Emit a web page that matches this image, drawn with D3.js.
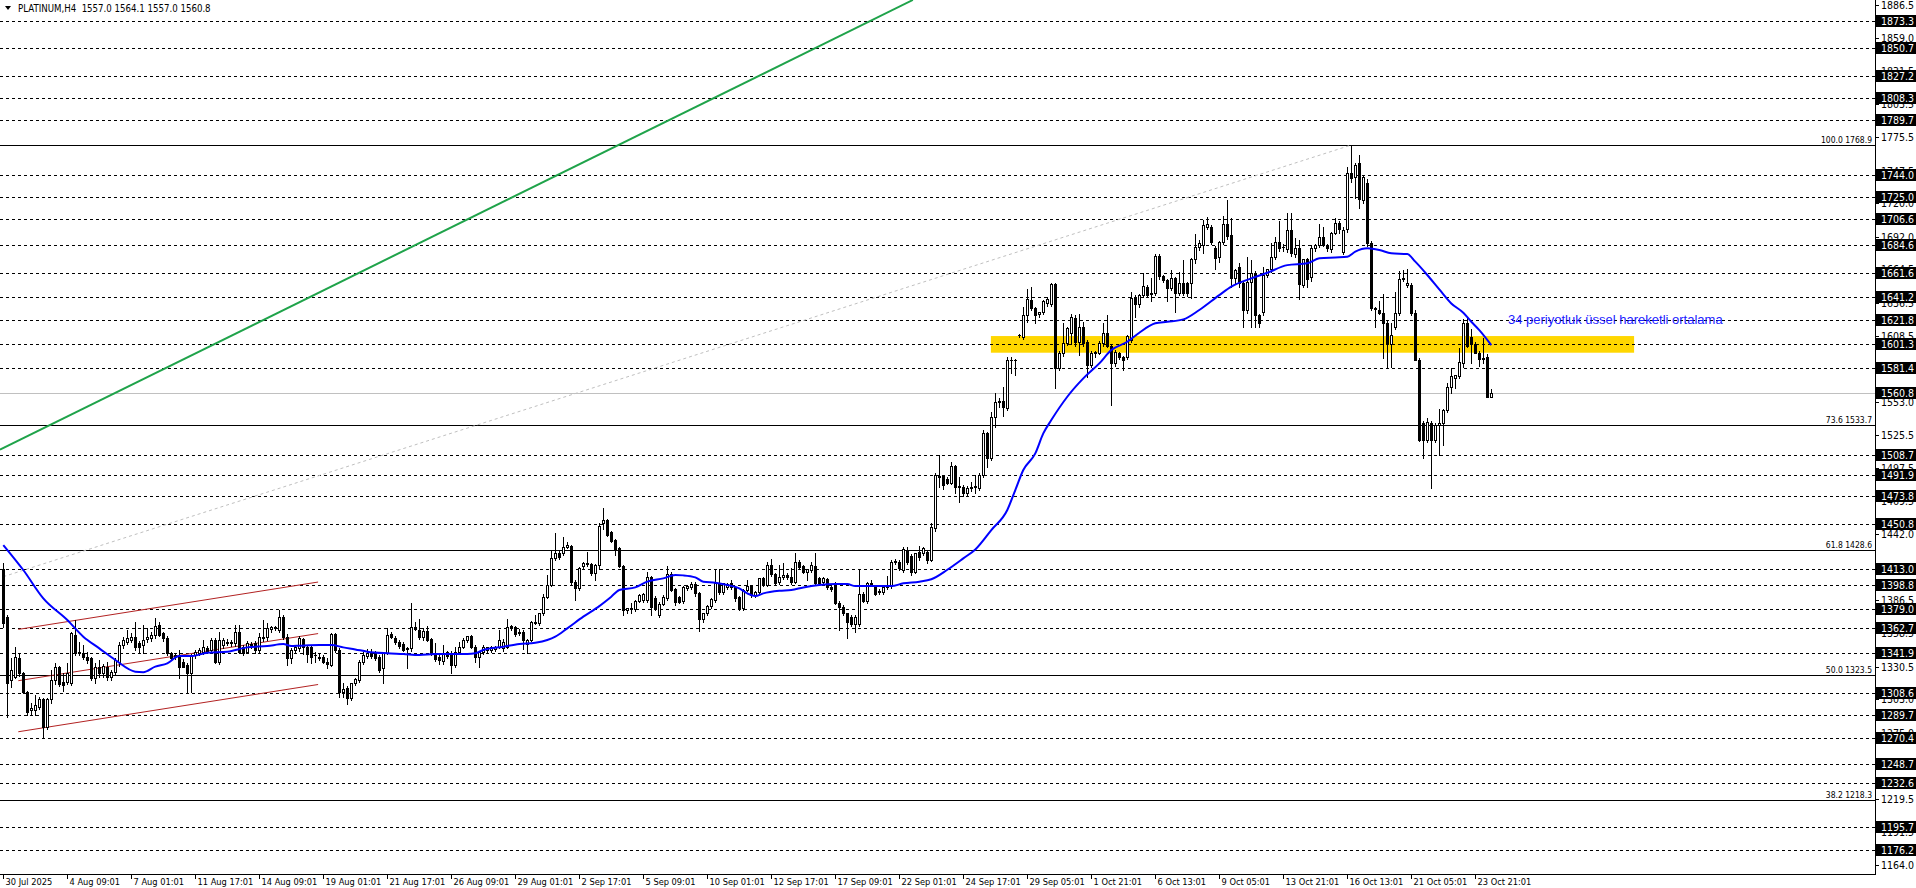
<!DOCTYPE html>
<html><head><meta charset="utf-8">
<script src="https://cdn.jsdelivr.net/npm/d3@7"></script>
<style>
html,body{margin:0;padding:0;background:#fff;overflow:hidden}
svg{display:block}
text{font-family:Tahoma,'DejaVu Sans Condensed','DejaVu Sans',sans-serif;white-space:pre;}
</style></head><body>
<svg id="c" width="1916" height="888"></svg>
<script>
// ---------- DATA ----------
const title = "PLATINUM,H4  1557.0 1564.1 1557.0 1560.8";
const opens = [1413.0,1372.0,1319.4,1322.2,1337.6,1325.0,1309.0,1294.2,1294.0,1297.0,1303.2,1280.2,1303.2,1319.4,1330.6,1318.0,1318.0,1316.6,1357.2,1343.2,1341.8,1339.0,1337.6,1320.8,1330.6,1325.0,1330.6,1322.2,1326.4,1334.8,1349.0,1351.6,1353.0,1355.8,1350.2,1348.8,1353.8,1354.4,1357.2,1365.6,1358.6,1354.4,1341.8,1340.4,1339.0,1334.8,1332.0,1325.0,1340.4,1342.0,1343.2,1346.0,1344.6,1353.0,1334.8,1348.8,1351.6,1350.2,1350.2,1360.0,1347.4,1343.2,1348.8,1350.2,1344.6,1354.4,1355.8,1362.0,1363.6,1361.4,1372.0,1355.8,1337.6,1344.6,1346.0,
1353.5,1347.4,1346.8,1340.4,1339.0,1338.4,1334.7,1332.0,1357.7,1344.6,1309.5,1312.4,1303.9,1316.5,1319.3,1334.7,1339.5,1343.2,1342.3,1338.4,1329.2,1342.3,1357.7,1354.9,1351.6,1349.3,1346.5,1346.0,1364.2,1361.4,1355.2,1360.5,1353.5,1341.8,1339.0,1335.6,1342.6,1342.3,1332.0,1343.2,1347.4,1353.0,1356.3,1347.4,1338.4,1342.6,1344.6,1344.6,1345.1,1347.4,1346.0,1347.4,1364.7,1364.2,1360.0,1360.0,1349.6,1353.0,1367.5,1367.5,1375.4,1389.4,1399.2,1421.6,1426.3,1425.8,1431.4,1432.0,1402.0,1396.4,1415.1,1416.8,1416.8,1409.0,1416.0,
1451.0,1453.8,1443.4,1437.0,1430.0,1415.1,1378.2,1380.0,1378.7,1386.0,1386.6,1386.6,1405.6,1388.0,1374.0,1383.2,1388.5,1408.4,1395.5,1388.8,1386.0,1396.4,1397.2,1400.0,1392.2,1370.3,1375.4,1381.5,1386.6,1401.1,1393.6,1397.2,1400.6,1397.2,1389.4,1380.1,1395.0,1398.3,1390.8,1393.6,1404.8,1399.2,1416.0,1408.4,1402.0,1405.6,1407.6,1405.6,1402.0,1418.8,1415.1,1410.4,1411.8,1415.1,1404.8,1401.6,1403.9,1397.8,1401.1,1384.3,1381.0,1375.4,1372.6,1366.4,1366.4,1391.6,1386.0,1400.0,1397.8,1393.6,1393.6,1397.2,1398.3,1418.8,1418.8,1411.8,1428.6,1423.5,1410.4,1427.2,
1425.8,1427.2,1420.2,1446.8,1490.2,1490.8,1488.0,1485.2,1499.2,1482.5,1481.8,1476.8,1481.0,1482.5,1480.4,1491.6,1526.6,1505.6,1540.6,1553.2,1554.1,1547.6,1588.2,1588.2,1609.2,1607.9,1626.1,1638.7,1631.7,1626.9,1628.9,1635.9,1635.3,1652.1,1581.2,1593.8,1602.2,1610.6,1623.3,1603.6,1616.3,1603.6,1584.0,1593.8,1594.4,1602.8,1611.2,1600.0,1586.0,1593.8,1591.0,1590.5,1605.0,1641.5,1635.3,1642.9,1649.9,1643.7,1644.8,1675.6,1658.8,1655.5,1648.5,1656.9,1644.3,1652.7,1652.7,1653.2,1672.8,1682.9,
1684.9,1699.7,1700.3,1682.1,1675.1,1687.7,1702.2,1693.3,1656.9,1666.7,1652.7,1630.2,1654.1,1661.1,1626.0,1628.8,1659.7,1664.4,1675.1,1687.7,1683.5,1681.2,1697.5,1677.3,1682.1,1651.3,1672.8,1658.0,1682.1,1684.9,1691.9,1684.9,1681.2,1695.2,1703.6,1679.3,1698.0,1745.6,1742.3,1753.5,1722.7,1737.2,1686.3,1631.6,1630.2,1628.0,1619.6,1601.7,1616.2,1628.0,1656.0,1651.3,1651.3,1628.0,1588.2,1535.0,1521.0,1535.0,1521.0,1533.6,1535.0,1546.2,1565.8,1572.8,1574.8,1586.0,1619.6,1607.3,1601.4,1594.4,1588.8,1591.0,1557.0];
const highs = [1418.0,1374.0,1337.6,1347.4,1341.0,1326.0,1310.0,1299.8,1306.8,1305.0,1304.5,1304.0,1327.8,1333.4,1331.5,1325.0,1333.4,1360.0,1369.8,1351.6,1348.8,1343.2,1339.0,1333.4,1336.2,1333.0,1334.8,1328.0,1338.0,1351.6,1355.8,1361.4,1358.6,1368.4,1352.0,1365.6,1362.8,1360.0,1371.2,1368.4,1360.0,1356.0,1343.0,1342.0,1344.6,1337.0,1334.0,1341.0,1344.6,1346.0,1353.0,1348.0,1354.4,1355.0,1360.0,1355.0,1354.0,1353.0,1365.6,1366.0,1349.0,1352.0,1351.0,1352.0,1358.6,1369.8,1367.0,1365.0,1365.0,1378.2,1374.0,1358.0,1346.0,1348.0,1356.0,
1355.0,1349.0,1348.0,1343.2,1341.8,1340.4,1337.6,1358.6,1359.1,1346.0,1316.5,1314.0,1317.0,1321.0,1336.0,1343.2,1345.1,1345.1,1344.0,1340.0,1342.8,1362.8,1360.0,1356.3,1353.0,1351.0,1347.4,1383.8,1368.4,1370.6,1363.0,1364.7,1355.0,1350.7,1341.0,1348.8,1344.0,1344.0,1347.4,1351.6,1355.0,1356.3,1357.0,1349.0,1344.0,1349.0,1347.5,1348.0,1348.0,1361.4,1353.5,1370.6,1366.0,1365.0,1362.0,1361.0,1353.5,1369.0,1374.0,1376.0,1391.6,1407.6,1428.6,1442.6,1428.6,1439.2,1435.6,1433.0,1403.0,1414.6,1418.5,1427.2,1418.0,1417.0,1451.0,
1463.6,1455.0,1445.0,1438.0,1431.0,1416.0,1380.0,1383.8,1387.0,1391.6,1392.2,1410.4,1407.0,1390.0,1385.2,1391.0,1415.1,1410.0,1397.0,1390.0,1398.3,1399.0,1402.0,1402.0,1393.0,1376.0,1382.0,1388.0,1411.8,1412.3,1401.0,1401.0,1403.4,1398.0,1390.0,1396.0,1403.4,1399.0,1394.0,1405.0,1406.0,1418.8,1420.7,1409.0,1416.0,1417.4,1409.0,1413.2,1425.8,1420.0,1416.0,1413.0,1418.8,1425.8,1406.0,1406.0,1405.0,1399.0,1402.0,1386.0,1382.0,1376.0,1374.0,1374.0,1411.8,1393.0,1402.0,1403.4,1399.0,1396.0,1399.0,1406.7,1420.0,1421.0,1420.0,1431.4,1431.4,1425.0,1426.0,1432.0,
1431.0,1429.0,1451.0,1493.0,1508.4,1492.0,1490.0,1502.8,1500.0,1490.2,1483.0,1482.0,1486.0,1491.6,1493.0,1529.4,1528.0,1545.0,1560.2,1556.0,1565.8,1591.0,1591.0,1589.5,1610.0,1633.1,1647.6,1649.9,1633.0,1629.0,1639.0,1641.5,1652.7,1652.7,1596.0,1619.6,1616.0,1626.9,1626.0,1627.0,1620.4,1605.0,1596.0,1596.0,1604.0,1619.1,1626.1,1602.0,1597.0,1595.0,1592.0,1609.0,1645.7,1643.0,1643.7,1661.6,1651.0,1656.9,1677.0,1677.0,1660.0,1656.5,1663.9,1658.0,1662.5,1672.3,1654.0,1674.0,1694.1,1689.1,
1705.9,1708.7,1702.0,1684.0,1688.0,1709.2,1722.7,1707.3,1665.0,1669.5,1654.0,1675.1,1672.3,1663.0,1627.0,1666.7,1665.0,1686.3,1691.9,1705.3,1686.0,1711.5,1711.5,1690.5,1689.1,1673.0,1674.0,1684.9,1686.0,1702.5,1700.3,1686.0,1696.1,1707.3,1705.0,1700.0,1750.7,1768.9,1754.1,1760.5,1744.0,1740.0,1688.0,1633.0,1638.1,1643.7,1621.0,1619.6,1645.7,1663.3,1663.9,1664.4,1653.0,1630.0,1590.0,1537.0,1539.2,1537.0,1535.0,1546.8,1547.0,1568.6,1581.2,1576.0,1598.0,1622.4,1623.2,1614.0,1603.0,1596.0,1606.4,1593.0,1564.1];
const lows = [1364.0,1288.6,1313.8,1320.8,1323.0,1308.5,1290.0,1290.0,1290.0,1295.0,1270.4,1278.0,1300.0,1316.0,1314.0,1310.0,1316.0,1315.0,1340.0,1340.4,1337.0,1334.0,1319.4,1316.6,1322.0,1322.0,1319.4,1319.4,1324.0,1331.0,1346.0,1350.0,1351.0,1345.0,1343.0,1341.8,1351.0,1352.0,1355.0,1356.0,1352.0,1340.0,1336.0,1337.0,1320.8,1330.0,1309.6,1309.6,1338.0,1340.0,1341.0,1342.0,1342.0,1333.4,1333.0,1346.0,1349.0,1348.0,1348.0,1342.0,1340.0,1342.0,1346.0,1341.8,1342.0,1352.0,1353.0,1360.0,1361.0,1360.0,1354.0,1332.0,1334.0,1342.0,1344.0,
1341.2,1334.2,1333.8,1334.7,1336.2,1333.3,1329.2,1331.0,1343.0,1305.3,1305.3,1299.2,1302.5,1315.0,1318.0,1333.0,1338.0,1338.0,1336.0,1326.3,1316.5,1341.0,1354.9,1350.0,1346.0,1344.0,1329.2,1344.0,1361.0,1354.0,1353.0,1352.0,1340.0,1335.0,1333.0,1333.0,1338.0,1324.9,1330.0,1341.0,1346.0,1351.0,1346.0,1334.7,1330.6,1341.0,1343.0,1343.0,1343.4,1346.0,1344.0,1346.0,1361.0,1356.0,1357.0,1345.1,1341.8,1352.0,1366.4,1366.0,1374.0,1388.0,1398.0,1420.0,1421.0,1424.0,1430.0,1399.2,1386.6,1395.0,1413.0,1415.0,1408.0,1403.4,1413.0,
1446.0,1440.0,1435.0,1424.4,1414.0,1374.0,1375.4,1375.4,1377.0,1385.0,1385.0,1385.0,1374.0,1378.0,1372.6,1382.0,1387.0,1394.0,1382.4,1384.0,1384.0,1395.0,1396.0,1390.0,1360.5,1368.0,1374.0,1380.0,1385.0,1392.0,1392.0,1396.0,1396.0,1386.0,1378.0,1378.0,1394.0,1389.0,1389.0,1392.0,1398.0,1398.0,1407.0,1399.0,1400.0,1404.0,1404.0,1400.0,1401.0,1413.0,1409.0,1403.4,1410.0,1400.0,1399.0,1399.0,1396.0,1394.0,1383.0,1361.4,1374.0,1354.4,1365.0,1360.0,1365.0,1385.0,1384.0,1399.0,1391.0,1392.0,1392.0,1396.0,1397.0,1417.0,1412.0,1410.0,1417.0,1408.0,1409.0,1420.0,
1424.0,1418.0,1419.0,1445.0,1481.8,1479.6,1484.0,1484.0,1476.8,1469.2,1474.0,1475.0,1478.0,1476.8,1479.0,1490.0,1498.6,1504.0,1532.2,1549.0,1541.2,1546.0,1577.0,1575.6,1608.0,1606.0,1620.0,1630.0,1619.6,1624.0,1627.0,1634.0,1634.0,1564.4,1580.0,1592.0,1601.0,1602.0,1600.0,1592.4,1600.0,1574.2,1582.0,1591.0,1593.0,1600.0,1599.5,1550.4,1583.0,1589.0,1579.8,1589.0,1603.0,1624.7,1633.0,1641.0,1641.0,1638.1,1643.0,1656.0,1654.0,1638.1,1647.0,1628.9,1643.0,1643.0,1642.0,1640.1,1670.0,1681.0,
1677.9,1698.0,1686.0,1664.4,1670.9,1686.0,1690.0,1650.0,1652.0,1650.0,1616.2,1628.0,1616.2,1616.2,1616.2,1626.0,1658.0,1662.0,1673.0,1680.0,1680.0,1679.0,1676.0,1675.0,1639.2,1650.0,1649.9,1655.0,1680.0,1683.0,1684.0,1680.0,1679.0,1694.0,1695.0,1677.0,1696.0,1738.0,1724.1,1715.7,1720.0,1684.0,1630.0,1616.2,1627.0,1589.6,1582.6,1582.1,1614.0,1626.0,1655.0,1650.0,1626.0,1588.0,1520.0,1505.6,1519.0,1480.4,1519.0,1508.4,1516.8,1545.0,1560.2,1564.4,1572.8,1582.6,1599.0,1585.4,1594.0,1583.2,1586.0,1557.0,1557.0];
const closes = [1367.0,1316.6,1327.8,1339.0,1325.0,1309.0,1292.8,1295.6,1298.4,1303.2,1280.2,1303.2,1319.4,1330.6,1316.0,1315.2,1325.0,1358.6,1341.8,1341.8,1339.0,1336.2,1320.8,1330.6,1325.0,1331.0,1322.2,1326.4,1336.2,1349.0,1353.0,1354.4,1355.8,1347.4,1347.4,1353.0,1355.8,1357.2,1364.8,1357.2,1354.4,1341.8,1337.6,1339.0,1330.6,1330.6,1325.0,1340.4,1343.2,1344.6,1347.4,1343.9,1353.0,1334.8,1353.0,1353.0,1350.2,1351.6,1360.0,1343.2,1341.8,1350.2,1349.4,1344.6,1355.8,1355.8,1362.8,1363.6,1362.8,1372.0,1355.8,1337.6,1344.6,1347.4,1354.4,
1347.4,1341.2,1339.0,1340.0,1337.6,1334.7,1332.8,1357.7,1344.6,1309.5,1311.5,1303.9,1316.5,1320.2,1334.7,1340.4,1342.3,1339.5,1337.6,1327.7,1342.3,1357.2,1355.8,1351.6,1347.9,1344.6,1345.1,1363.6,1362.0,1355.8,1360.5,1353.0,1341.8,1336.7,1336.2,1341.8,1339.5,1332.0,1343.2,1347.4,1353.0,1356.3,1347.4,1338.4,1343.2,1346.8,1346.8,1347.4,1347.4,1353.0,1351.6,1364.2,1362.8,1358.0,1358.6,1353.0,1353.0,1368.4,1368.4,1375.4,1389.4,1399.2,1421.6,1426.3,1422.4,1430.8,1432.8,1402.0,1396.4,1413.2,1417.9,1417.9,1409.0,1416.0,1449.0,
1453.8,1441.2,1436.4,1428.6,1415.1,1378.2,1379.6,1379.6,1386.0,1390.8,1391.6,1406.2,1380.9,1379.6,1383.2,1389.4,1408.4,1395.0,1385.2,1385.2,1397.2,1398.3,1400.0,1392.2,1370.3,1375.4,1381.5,1387.1,1401.1,1393.6,1400.6,1400.0,1397.2,1388.0,1380.1,1395.0,1398.3,1390.8,1393.6,1404.8,1399.2,1416.0,1408.4,1401.1,1405.6,1407.6,1405.6,1402.0,1418.8,1414.6,1410.4,1412.3,1416.0,1401.1,1401.1,1404.8,1397.8,1395.5,1383.8,1380.4,1375.4,1368.4,1366.4,1372.6,1391.6,1386.0,1400.6,1400.6,1391.6,1394.4,1397.8,1398.3,1418.8,1419.6,1413.2,1429.1,1418.8,1410.4,1425.8,1423.0,
1430.0,1420.2,1448.2,1491.6,1490.8,1483.2,1485.2,1499.2,1481.8,1481.8,1476.2,1480.4,1481.8,1481.8,1491.6,1526.6,1505.6,1540.6,1553.2,1554.1,1549.0,1588.2,1588.0,1588.0,1609.2,1626.1,1639.2,1631.7,1626.1,1628.9,1638.1,1639.2,1652.1,1581.2,1593.8,1602.2,1614.9,1624.1,1603.6,1616.3,1602.2,1584.0,1593.8,1595.2,1602.8,1611.2,1600.0,1586.0,1595.2,1591.0,1588.2,1608.4,1640.1,1635.3,1642.9,1650.4,1642.9,1644.8,1675.6,1658.8,1655.5,1648.5,1656.9,1644.3,1652.7,1644.3,1644.3,1672.8,1682.9,1686.3,
1701.7,1702.2,1687.7,1673.7,1687.7,1702.2,1692.4,1656.9,1663.9,1652.7,1630.2,1654.1,1661.1,1626.0,1619.6,1659.7,1664.4,1675.1,1687.7,1682.1,1682.9,1697.5,1677.9,1682.1,1652.1,1672.8,1656.0,1682.1,1684.9,1691.9,1684.9,1682.1,1694.7,1703.6,1698.0,1697.5,1745.6,1740.9,1752.1,1723.2,1742.3,1686.3,1631.6,1630.8,1628.0,1619.6,1601.7,1609.2,1628.0,1656.0,1656.9,1652.7,1628.0,1588.2,1521.0,1521.0,1536.4,1521.0,1533.6,1535.0,1546.2,1565.8,1574.8,1575.6,1586.8,1619.6,1600.0,1601.4,1594.4,1588.8,1589.6,1557.4,1560.8];

// 34-period EMA, read at sample bars
const emaBars = [0,5,10,16,20,24,28,33,35,38,41,44,47,51,56,61,66,70,72,74,79,82,85,88,91,96,100,104,108,112,116,118,120,125,129,133,136,138,141,145,149,152,154,158,161,165,168,170,173,175,178,181,184,186,188,190,194,197,200,204,208,211,213,218,222,225,229,232,236,240,243,247,251,253,255,258,260,262,266,270,274,277,281,284,288,291,295,299,304,307,312,316,321,326,329,333,336,338,341,344,347,351,353,356,359,362,365,367,369,372];
const emaValues = [1432.8,1411.8,1388.0,1369.8,1355.8,1346.0,1336.2,1326.4,1326.0,1330.6,1333.4,1339.5,1339.5,1342.3,1343.2,1346.8,1347.9,1349.6,1347.9,1348.2,1348.8,1348.8,1346.8,1345.1,1343.2,1341.8,1341.2,1340.4,1341.2,1341.2,1341.2,1341.8,1344.6,1347.4,1349.6,1350.7,1353.0,1355.8,1362.8,1372.6,1381.5,1389.4,1395.0,1397.2,1402.0,1404.8,1407.6,1407.3,1405.6,1402.0,1401.1,1399.2,1396.4,1392.2,1389.9,1392.2,1394.4,1395.0,1397.2,1399.2,1400.0,1400.0,1398.3,1398.3,1398.3,1400.6,1402.0,1404.0,1412.0,1421.6,1429.1,1445.4,1462.2,1479.0,1495.8,1509.8,1526.6,1537.8,1557.4,1572.8,1585.4,1596.6,1603.6,1611.2,1619.1,1620.4,1622.4,1630.3,1642.8,1649.9,1656.9,1661.6,1668.0,1669.5,1673.7,1674.5,1675.1,1679.3,1682.1,1680.7,1677.9,1677.3,1670.9,1659.7,1647.6,1635.8,1628.0,1620.4,1613.4,1600.8];

const xLabels = ["30 Jul 2025","4 Aug 09:01","7 Aug 01:01","11 Aug 17:01","14 Aug 09:01","19 Aug 01:01","21 Aug 17:01","26 Aug 09:01","29 Aug 01:01","2 Sep 17:01","5 Sep 09:01","10 Sep 01:01","12 Sep 17:01","17 Sep 09:01","22 Sep 01:01","24 Sep 17:01","29 Sep 05:01","1 Oct 21:01","6 Oct 13:01","9 Oct 05:01","13 Oct 21:01","16 Oct 13:01","21 Oct 05:01","23 Oct 21:01"];
const xLabelBars = [0,16,32,48,64,80,96,112,128,144,160,176,192,208,224,240,256,272,288,304,320,336,352,368];
const yTicks = [1886.5,1859.0,1831.5,1803.5,1775.5,1747.5,1720.0,1692.0,1664.5,1636.5,1608.5,1581.0,1553.0,1525.5,1497.5,1469.5,1442.0,1414.0,1386.5,1358.5,1330.5,1303.0,1275.0,1247.0,1219.5,1191.5,1164.0];
const dashedLevels = [1873.3,1850.7,1827.2,1808.3,1789.7,1744.0,1725.0,1706.6,1684.6,1661.6,1641.2,1621.8,1601.3,1581.4,1508.7,1491.9,1473.8,1450.8,1413.0,1398.8,1379.0,1362.7,1341.9,1308.6,1289.7,1270.4,1248.7,1232.6,1195.7,1176.2];
const fibPercents = ["100.0","73.6","61.8","50.0","38.2"];
const fibPrices = [1768.9,1533.7,1428.6,1323.5,1218.3];
const currentPrice = 1560.8;
const zoneBars = [246.9, 407.7];
const zonePrices = [1594.4, 1608.4];
const channelBars = [3.75, 78.7];
const channelUpper = [1361.9, 1401.7];
const channelMiddle = [1318.8, 1358.4];
const channelLower = [1275.9, 1315.6];
const greenBars = [-0.83, 227.4];
const greenPrices = [1512.9, 1890.8];
const fibTrendBars = [0, 337];
const fibTrendPrices = [1406.2, 1768.9];
const emaNote = "34 periyotluk üssel hareketli ortalama";

// ---------- LAYOUT ----------
const plotRight = 1875, plotBottom = 874;
const svg = d3.select("#c");
const x = d3.scaleLinear().domain([0, 372]).range([3.3, 3.3 + 4 * 372]);
const y = d3.scaleLinear().domain([1176.2, 1873.3]).range([850.4, 20.8]);
const ry = v => Math.round(y(v)) + 0.5;

svg.append("defs").append("clipPath").attr("id", "plot")
  .append("rect").attr("x", 0).attr("y", 0).attr("width", plotRight).attr("height", plotBottom);
const g = svg.append("g").attr("clip-path", "url(#plot)");

// gold zone
g.append("rect")
  .attr("x", x(zoneBars[0])).attr("width", x(zoneBars[1]) - x(zoneBars[0]))
  .attr("y", y(zonePrices[1])).attr("height", y(zonePrices[0]) - y(zonePrices[1]))
  .attr("fill", "#FFD700");

// dashed horizontal levels
g.selectAll("line.dl").data(dashedLevels).enter().append("line")
  .attr("x1", 0).attr("x2", plotRight).attr("y1", d => ry(d)).attr("y2", d => ry(d))
  .attr("stroke", "#000").attr("stroke-width", 1).attr("stroke-dasharray", "3,3");

// current price line
g.append("line").attr("x1", 0).attr("x2", plotRight)
  .attr("y1", ry(currentPrice)).attr("y2", ry(currentPrice))
  .attr("stroke", "#c0c0c0").attr("stroke-width", 1);

// fib levels
g.selectAll("line.fib").data(fibPrices).enter().append("line")
  .attr("x1", 0).attr("x2", plotRight).attr("y1", d => ry(d)).attr("y2", d => ry(d))
  .attr("stroke", "#000").attr("stroke-width", 1);
g.selectAll("text.fib").data(fibPrices).enter().append("text")
  .attr("x", plotRight - 3).attr("y", d => ry(d) - 3)
  .attr("text-anchor", "end").attr("font-size", "8.5px").attr("fill", "#000")
  .text((d, i) => fibPercents[i] + " " + d.toFixed(1));

const line2 = (bars, prices) => d3.line().x((d, i) => x(bars[i])).y((d, i) => y(prices[i]))(bars);

// fib trend (dotted)
g.append("path").attr("d", line2(fibTrendBars, fibTrendPrices))
  .attr("stroke", "#c0c0c0").attr("stroke-width", 1).attr("stroke-dasharray", "3,3").attr("fill", "none");

// green trend line
g.append("path").attr("d", line2(greenBars, greenPrices))
  .attr("stroke", "#1fa34a").attr("stroke-width", 2).attr("fill", "none");

// red channel
[channelUpper, channelMiddle, channelLower].forEach(p => {
  g.append("path").attr("d", line2(channelBars, p))
    .attr("stroke", "#b22222").attr("stroke-width", 1).attr("fill", "none");
});

// candles
const cg = g.append("g");
opens.forEach((o, i) => {
  const h = highs[i], l = lows[i], c = closes[i];
  const cx = Math.round(x(i));
  const yh = Math.round(y(h)), yl = Math.round(y(l));
  cg.append("line").attr("x1", cx + 0.5).attr("x2", cx + 0.5).attr("y1", yh).attr("y2", yl + 1)
    .attr("stroke", "#000").attr("stroke-width", 1);
  const top = Math.round(y(Math.max(o, c))), bot = Math.round(y(Math.min(o, c)));
  if (bot - top < 1) {
    cg.append("line").attr("x1", cx - 1).attr("x2", cx + 2).attr("y1", top + 0.5).attr("y2", top + 0.5)
      .attr("stroke", "#000").attr("stroke-width", 1);
  } else if (c >= o) {
    cg.append("rect").attr("x", cx - 0.5).attr("y", top + 0.5).attr("width", 2).attr("height", bot - top)
      .attr("fill", "#fff").attr("stroke", "#000").attr("stroke-width", 1);
  } else {
    cg.append("rect").attr("x", cx - 1).attr("y", top).attr("width", 3).attr("height", bot - top + 1)
      .attr("fill", "#000");
  }
});

// EMA
g.append("path")
  .attr("d", d3.line().curve(d3.curveMonotoneX).x((d, i) => x(emaBars[i])).y((d, i) => y(emaValues[i]))(emaBars))
  .attr("stroke", "#0000ff").attr("stroke-width", 2).attr("fill", "none");

// EMA note
svg.append("text").attr("x", 1508).attr("y", 324).attr("font-size", "13px")
  .style("font-family", "'Liberation Sans',Arial,sans-serif")
  .attr("fill", "#1a1aff").text(emaNote);

// frame / axes
svg.append("line").attr("x1", plotRight + 0.5).attr("x2", plotRight + 0.5).attr("y1", 0).attr("y2", plotBottom + 1)
  .attr("stroke", "#000");
svg.append("line").attr("x1", 0).attr("x2", plotRight + 1).attr("y1", plotBottom + 0.5).attr("y2", plotBottom + 0.5)
  .attr("stroke", "#000");

// y ticks
const yt = svg.append("g");
yTicks.forEach(t => {
  const yy = ry(t);
  yt.append("line").attr("x1", plotRight).attr("x2", plotRight + 4).attr("y1", yy).attr("y2", yy).attr("stroke", "#000");
  yt.append("text").attr("x", plotRight + 6).attr("y", yy).attr("dy", "0.35em")
    .attr("font-size", "10.5px").attr("fill", "#000").text(t.toFixed(1));
});
// price boxes
const bx = svg.append("g");
dashedLevels.concat([currentPrice]).forEach(p => {
  const yy = Math.round(y(p));
  bx.append("rect").attr("x", plotRight + 1).attr("y", yy - 6).attr("width", 40).attr("height", 12).attr("fill", "#000");
  bx.append("text").attr("x", plotRight + 6).attr("y", yy + 0.5).attr("dy", "0.35em")
    .attr("font-size", "10.5px").attr("fill", "#fff").text(p.toFixed(1));
});

// x ticks
const xt = svg.append("g");
xLabelBars.forEach((b, i) => {
  const xx = Math.round(x(b)) + 0.5;
  xt.append("line").attr("x1", xx).attr("x2", xx).attr("y1", plotBottom).attr("y2", plotBottom + 5).attr("stroke", "#000");
  xt.append("text").attr("x", xx + 2).attr("y", 885).attr("font-size", "9.2px").attr("fill", "#000").text(xLabels[i]);
});

// title
svg.append("path").attr("d", "M5,6 L11,6 L8,10 Z").attr("fill", "#000");
svg.append("text").attr("x", 18).attr("y", 12).attr("font-size", "9.6px").attr("fill", "#000").text(title);
</script>
</body></html>
